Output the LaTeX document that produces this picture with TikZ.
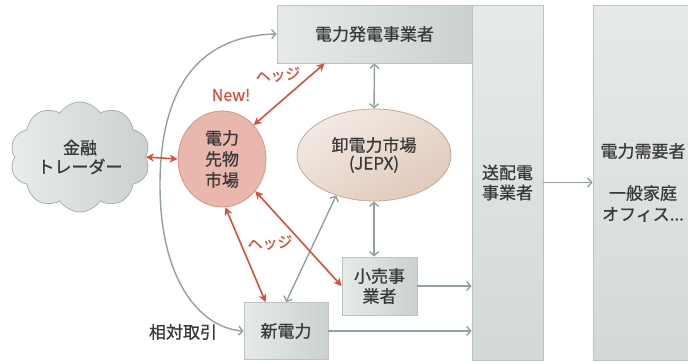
\documentclass[tikz,border=0pt]{standalone}
\usepackage{fontspec}
\setmainfont{Noto Sans CJK JP}[UprightFeatures={FakeBold=0.8}]
\usetikzlibrary{arrows.meta,shapes.geometric,shapes.symbols}

\definecolor{ink}{HTML}{3A3A3A}
\definecolor{boxlight}{HTML}{E6EBE8}
\definecolor{boxdark}{HTML}{CBD2CE}
\definecolor{boxline}{HTML}{BCC4C0}
\definecolor{flow}{HTML}{8FA39C}
\definecolor{hedge}{HTML}{DA4F3A}
\definecolor{futfill}{HTML}{EAB7AD}
\definecolor{futline}{HTML}{D39487}
\definecolor{jepxlight}{HTML}{F3EAE4}
\definecolor{jepxdark}{HTML}{E0CABB}
\definecolor{jepxline}{HTML}{C9A68E}
\definecolor{cloudfill}{HTML}{E8ECEA}
\definecolor{cloudline}{HTML}{A8B1AD}

\begin{document}
\begin{tikzpicture}[x=1pt,y=-1pt,
	font=\fontsize{17}{21}\selectfont,text=ink,
	panel/.style={draw=boxline,line width=0.8pt,left color=boxlight,right color=boxdark,align=center,inner sep=0pt},
	column/.style={draw=boxline,line width=0.8pt,top color=boxlight,bottom color=boxdark!70!boxlight,align=center,inner sep=0pt},
	graylink/.style={draw=flow,line width=1.4pt,{Straight Barb[length=4pt,width=9pt]}-{Straight Barb[length=4pt,width=9pt]}},
	grayto/.style={draw=flow,line width=1.4pt,-{Straight Barb[length=4pt,width=9pt]}},
	redlink/.style={draw=hedge,line width=1.6pt,{Stealth[length=8pt,width=8pt,inset=2.5pt]}-{Stealth[length=8pt,width=8pt,inset=2.5pt]}},
	redtext/.style={text=hedge,inner sep=0pt,font=\fontsize{15}{18}\selectfont}]

	\useasboundingbox (0,0) rectangle (688,362);

	\node[panel,minimum width=195pt,minimum height=58pt] (gen) at (374.5,34) {電力発電事業者};
	\node[column,minimum width=71pt,minimum height=355pt] (tso) at (507.5,182.5) {送配電\\[-1pt]事業者};
	\node[column,minimum width=100pt,minimum height=355pt] (user) at (643,182.5) {電力需要者\\[21pt]一般家庭\\オフィス...};

	\node[panel,minimum width=75pt,minimum height=58pt] (retail) at (379.5,286) {小売事\\[-1pt]業者};
	\node[panel,minimum width=84pt,minimum height=57pt] (newpower) at (286,331) {新電力};

	\node[ellipse,draw=futline,line width=0.8pt,fill=futfill,minimum width=88pt,minimum height=96pt,align=center,inner sep=0pt] (futures) at (222,159) {電力\\先物\\市場};
	\node[ellipse,draw=jepxline,line width=0.8pt,left color=jepxlight,right color=jepxdark,shading angle=30,minimum width=154pt,minimum height=92pt,align=center,inner sep=0pt] (jepx) at (374,155) {卸電力市場\\[-3pt](JEPX)};
	\node[cloud,cloud puffs=10,cloud puff arc=115,aspect=1.3,draw=cloudline,line width=0.8pt,left color=cloudfill,right color=boxdark,inner sep=0pt,minimum width=140pt,minimum height=110pt,align=center] (trader) at (80,157) {金融\\[-2pt]トレーダー};

	\node[redtext,font=\fontsize{16}{18}\selectfont] (new) at (231,95) {New!};
	\node[redtext,rotate=5] (hedgeup) at (278,75) {ヘッジ};
	\node[redtext,rotate=4] (hedgelow) at (270,243) {ヘッジ};
	\node (bilateral) at (183,332) {相対取引};

	\draw[graylink] (gen.west) .. controls (190,36) and (160,100) .. (160,185) .. controls (160,280) and (200,328) .. (newpower.west);
	\draw[graylink] (gen.south) -- (jepx.north);
	\draw[graylink] (jepx.south) -- (jepx.south |- retail.north);
	\draw[graylink] (jepx.-133) -- (newpower.north);
	\draw[grayto] (retail.east) -- (retail.east -| tso.west);
	\draw[grayto] (newpower.east) -- (newpower.east -| tso.west);
	\draw[grayto] (tso.east) -- (user.west);

	\draw[redlink] (trader.east) -- (futures.west);
	\draw[redlink] (futures.47) -- ([xshift=48pt]gen.south west);
	\draw[redlink] (futures.-86) -- ([xshift=22pt]newpower.north west);
	\draw[redlink] (futures.-44) -- (retail.west);

\end{tikzpicture}
\end{document}
